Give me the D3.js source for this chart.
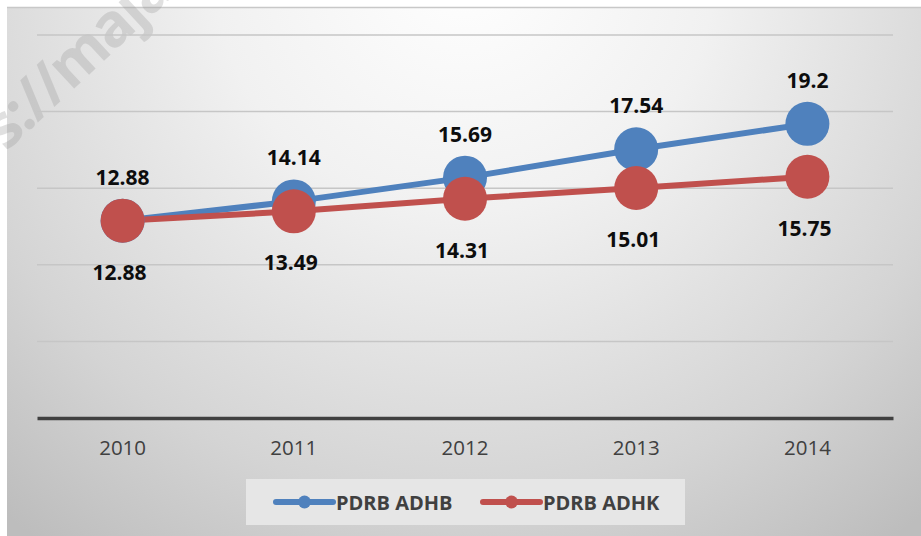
<!DOCTYPE html>
<html>
<head>
<meta charset="utf-8">
<script src="https://cdn.jsdelivr.net/npm/d3@7"></script>
<style>
  html, body { margin: 0; padding: 0; background: #fff; }
  svg { display: block; font-family: "Open Sans", "Liberation Sans", sans-serif; }
</style>
</head>
<body>
<div id="chart"></div>
<script>
// data
const years = ["2010", "2011", "2012", "2013", "2014"];
const adhb = [12.88, 14.14, 15.69, 17.54, 19.2];
const adhk = [12.88, 13.49, 14.31, 15.01, 15.75];
const yTicks = [0, 5, 10, 15, 20, 25];
const seriesNames = ["PDRB ADHB", "PDRB ADHK"];
const seriesColors = ["#4f81bd", "#c0504d"];

const width = 921, height = 536;
const svg = d3.select("#chart").append("svg").attr("width", width).attr("height", height);

// background gradient
const defs = svg.append("defs");
const grad = defs.append("radialGradient").attr("id", "bg")
    .attr("gradientUnits", "userSpaceOnUse")
    .attr("cx", 464).attr("cy", -40).attr("r", 720)
    .attr("fx", 464).attr("fy", -40);
grad.append("stop").attr("offset", 0).attr("stop-color", "#ffffff");
grad.append("stop").attr("offset", 0.35).attr("stop-color", "#f1f1f1");
grad.append("stop").attr("offset", 0.75).attr("stop-color", "#d4d4d4");
grad.append("stop").attr("offset", 1).attr("stop-color", "#bdbdbd");

svg.append("rect").attr("x", 7).attr("y", 7).attr("width", width - 7).attr("height", height - 7)
    .attr("fill", "url(#bg)");
svg.append("line").attr("x1", 7).attr("x2", width).attr("y1", 7.5).attr("y2", 7.5)
    .attr("stroke", "#c8c8c8").attr("stroke-width", 1.5);

// watermark (cut by the edges, as in the source image)
const wm = svg.append("g").attr("transform", "translate(6,152) rotate(-43)")
    .style("font-size", "60px").style("font-weight", "bold").attr("fill", "#9a9a9a").attr("opacity", 0.3);
wm.append("text").attr("text-anchor", "end").text("http");
wm.append("text").attr("text-anchor", "start").attr("letter-spacing", "-2px").text("s://majalah");

// scales
const x = d3.scaleBand().domain(years).range([37, 893]);
const y = d3.scaleLinear().domain([0, 25]).range([418, 35]);
const cx = d => x(d) + x.bandwidth() / 2;

// gridlines
svg.append("g").selectAll("line").data(yTicks.slice(1)).join("line")
    .attr("x1", 37).attr("x2", 893)
    .attr("y1", d => y(d)).attr("y2", d => y(d))
    .attr("stroke", "#c6c6c6").attr("stroke-width", 1.5);

// x axis
const xAxis = svg.append("g").attr("transform", `translate(0,${y(0)})`)
    .call(d3.axisBottom(x).tickSize(0).tickPadding(25));
xAxis.select(".domain").attr("stroke", "#404040").attr("stroke-width", 3.5);
xAxis.selectAll("text").style("font-size", "20.5px").style("font-family", "Open Sans")
    .attr("fill", "#404040").attr("dy", "0.6em");

// series
const series = [adhb, adhk];
const line = d3.line().x((d, i) => cx(years[i])).y(d => y(d));
series.forEach((vals, s) => {
    svg.append("path").datum(vals).attr("d", line)
        .attr("fill", "none").attr("stroke", seriesColors[s]).attr("stroke-width", 6)
        .attr("stroke-linecap", "round");
});
series.forEach((vals, s) => {
    svg.append("g").selectAll("circle").data(vals).join("circle")
        .attr("cx", (d, i) => cx(years[i])).attr("cy", d => y(d)).attr("r", 22)
        .attr("fill", seriesColors[s]);
});

// data labels: blue above, red below
svg.append("g").selectAll("text").data(adhb).join("text")
    .attr("x", (d, i) => cx(years[i])).attr("y", d => y(d) - 44)
    .attr("text-anchor", "middle").attr("dominant-baseline", "central")
    .style("font-size", "21px").style("font-weight", "bold").attr("fill", "#0d0d0d")
    .text(d => d);
svg.append("g").selectAll("text").data(adhk).join("text")
    .attr("x", (d, i) => cx(years[i]) - 3).attr("y", d => y(d) + 51)
    .attr("text-anchor", "middle").attr("dominant-baseline", "central")
    .style("font-size", "21px").style("font-weight", "bold").attr("fill", "#0d0d0d")
    .text(d => d);

// legend
const lg = svg.append("g");
lg.append("rect").attr("x", 246).attr("y", 479).attr("width", 439).attr("height", 46)
    .attr("fill", "#e6e6e6");
const items = lg.selectAll("g").data(seriesNames).join("g")
    .attr("transform", (d, i) => `translate(${276 + i * 207},502)`);
items.append("line").attr("x1", 0).attr("x2", 57).attr("y1", 0).attr("y2", 0)
    .attr("stroke", (d, i) => seriesColors[i]).attr("stroke-width", 6).attr("stroke-linecap", "round");
items.append("circle").attr("cx", 28.5).attr("r", 6.5).attr("fill", (d, i) => seriesColors[i]);
items.append("text").attr("x", 60).attr("dominant-baseline", "central")
    .style("font-size", "20px").style("font-weight", "bold").attr("fill", "#404040")
    .text(d => d);
</script>
</body>
</html>
